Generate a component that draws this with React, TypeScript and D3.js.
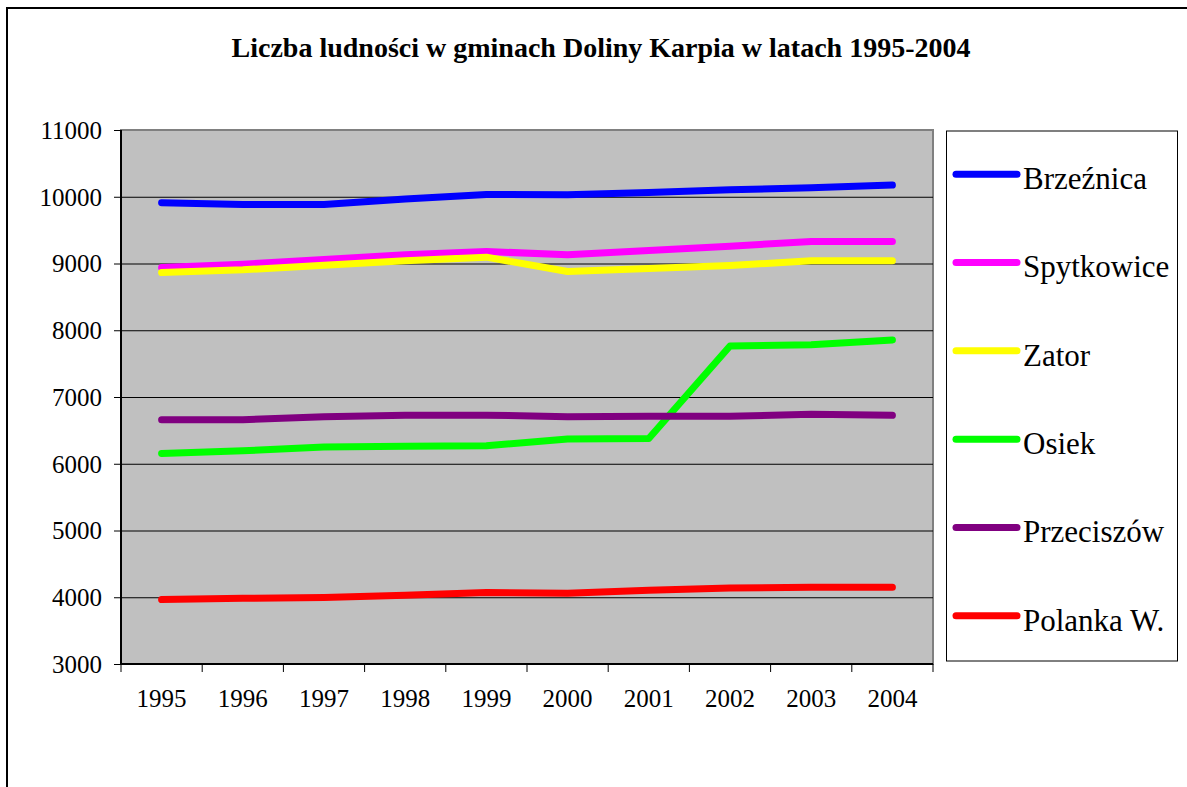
import React from "react";
import * as d3 from "d3";

const years = ["1995", "1996", "1997", "1998", "1999", "2000", "2001", "2002", "2003", "2004"];
const seriesNames = ["Brzeźnica", "Spytkowice", "Zator", "Osiek", "Przeciszów", "Polanka W."];
const seriesColors = ["#0000FF", "#FF00FF", "#FFFF00", "#00FF00", "#800080", "#FF0000"];
const brzeznica = [9910, 9885, 9885, 9965, 10035, 10030, 10065, 10105, 10135, 10175];
const spytkowice = [8940, 8990, 9060, 9130, 9180, 9130, 9195, 9260, 9330, 9330];
const zator = [8865, 8905, 8975, 9040, 9095, 8880, 8925, 8970, 9040, 9040];
const osiek = [6155, 6195, 6250, 6262, 6270, 6372, 6378, 7765, 7782, 7855];
const przeciszow = [6660, 6660, 6705, 6728, 6728, 6705, 6712, 6712, 6740, 6725];
const polanka = [3965, 3985, 3995, 4030, 4070, 4060, 4105, 4140, 4150, 4150];
const yTicks = [3000, 4000, 5000, 6000, 7000, 8000, 9000, 10000, 11000];
const title = "Liczba ludności w gminach Doliny Karpia w latach 1995-2004";

const allSeries = [brzeznica, spytkowice, zator, osiek, przeciszow, polanka];

const FONT = "Liberation Serif, Times New Roman, DejaVu Serif, serif";

export default function App() {
  const W = 1187;
  const H = 787;
  const plot = { left: 121, right: 933, top: 130, bottom: 664 };
  const x = d3.scaleBand().domain(years).range([plot.left, plot.right]);
  const y = d3.scaleLinear().domain([3000, 11000]).range([plot.bottom, plot.top]);
  const line = d3
    .line<number>()
    .x((_, i) => (x(years[i]) as number) + x.bandwidth() / 2)
    .y((d) => y(d));
  const legend = { left: 946.5, top: 131, right: 1177.5, bottom: 661 };
  const legendStep = (legend.bottom - legend.top) / seriesNames.length;
  const ts = { fontFamily: FONT } as React.CSSProperties;

  return (
    <svg
      width={W}
      height={H}
      style={{ position: "absolute", left: 0, top: 0, display: "block", background: "#fff" }}
    >
      <rect x={0} y={0} width={W} height={H} fill="#fff" />
      {/* outer chart frame */}
      <path d={`M7,${H + 5} V8 H${W + 5}`} fill="none" stroke="#000" strokeWidth={2} />
      <text x={601} y={57} textAnchor="middle" fontSize={28} fontWeight="bold" fill="#000" style={ts}>
        {title}
      </text>
      {/* plot area */}
      <rect
        x={plot.left}
        y={plot.top}
        width={plot.right - plot.left}
        height={plot.bottom - plot.top}
        fill="#C0C0C0"
        stroke="#808080"
        strokeWidth={2}
      />
      {yTicks.map((t) => (
        <g key={t}>
          {t > 3000 && t < 11000 && (
            <line x1={plot.left} x2={plot.right} y1={y(t) + 0.5} y2={y(t) + 0.5} stroke="#000" strokeWidth={1} />
          )}
          <line x1={plot.left - 7} x2={plot.left} y1={y(t) + 0.5} y2={y(t) + 0.5} stroke="#000" strokeWidth={1} />
          <text x={plot.left - 19} y={y(t)} dy="0.35em" textAnchor="end" fontSize={25} fill="#000" style={ts}>
            {t}
          </text>
        </g>
      ))}
      {/* axes */}
      <line x1={plot.left} x2={plot.left} y1={plot.top} y2={plot.bottom} stroke="#000" strokeWidth={2} />
      <line x1={plot.left} x2={plot.right} y1={plot.bottom} y2={plot.bottom} stroke="#000" strokeWidth={2} />
      {years.map((yr, i) => (
        <g key={yr}>
          <line
            x1={x(yr) as number}
            x2={x(yr) as number}
            y1={plot.bottom}
            y2={plot.bottom + 8}
            stroke="#000"
            strokeWidth={1}
          />
          {i === years.length - 1 && (
            <line
              x1={plot.right}
              x2={plot.right}
              y1={plot.bottom}
              y2={plot.bottom + 8}
              stroke="#000"
              strokeWidth={1}
            />
          )}
          <text
            x={(x(yr) as number) + x.bandwidth() / 2}
            y={707}
            textAnchor="middle"
            fontSize={25}
            fill="#000"
            style={ts}
          >
            {yr}
          </text>
        </g>
      ))}
      {/* series lines */}
      {allSeries.map((s, i) => (
        <path
          key={seriesNames[i]}
          d={line(s) as string}
          fill="none"
          stroke={seriesColors[i]}
          strokeWidth={7}
          strokeLinecap="round"
          strokeLinejoin="round"
        />
      ))}
      {/* legend */}
      <rect
        x={legend.left}
        y={legend.top}
        width={legend.right - legend.left}
        height={legend.bottom - legend.top}
        fill="#fff"
        stroke="#000"
        strokeWidth={1}
      />
      {seriesNames.map((n, i) => {
        const cy = legend.top + legendStep * (i + 0.5) + 3;
        return (
          <g key={n}>
            <line x1={956} x2={1017} y1={cy - 4} y2={cy - 4} stroke={seriesColors[i]} strokeWidth={7} strokeLinecap="round" />
            <text x={1023} y={cy} dy="0.35em" fontSize={31} fill="#000" style={ts}>
              {n}
            </text>
          </g>
        );
      })}
    </svg>
  );
}
